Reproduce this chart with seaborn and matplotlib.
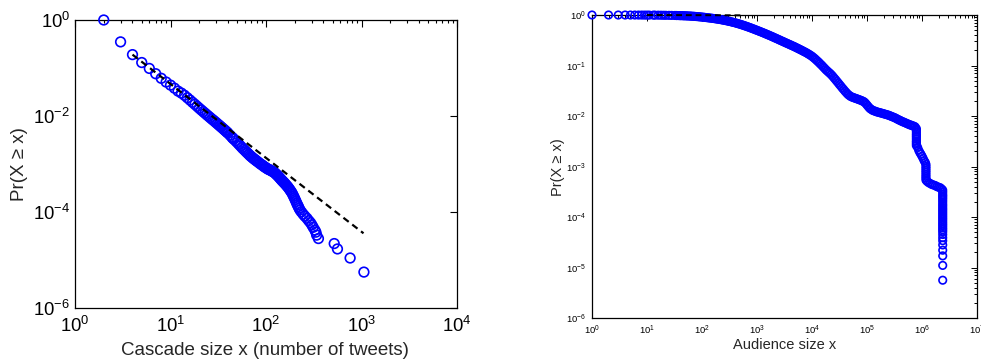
import numpy as np
import pandas as pd
import matplotlib
matplotlib.use("Agg")
import matplotlib.pyplot as plt
import seaborn as sns
from matplotlib.ticker import (LogLocator, FixedLocator, NullLocator,
                               LogFormatterSciNotation, NullFormatter)

# ---------------- data: cascade size CCDF (left panel) ----------------
cascade_size = [2, 3, 4, 5, 6, 7, 8, 9, 10, 11, 12, 13, 14, 15, 16, 17, 18, 19,
                20, 21, 22, 23, 24, 25, 26, 27, 28, 29, 30, 31, 32, 33, 34, 35, 36, 37, 38, 39, 40,
                42, 44, 45, 46, 48, 50, 52, 54, 56, 58, 60, 62, 64, 66, 68, 70, 72, 74, 76, 78, 80,
                83, 86, 89, 92, 95, 98, 101, 104, 107, 110, 113, 116, 119, 122, 125, 128, 131, 134,
                137, 140, 143, 146, 149, 152, 155, 158, 162, 166, 170, 174, 178, 182, 186, 190,
                194, 198, 202, 206, 210, 214, 218, 222, 227,
                235, 245, 255, 268, 280, 292, 302, 312, 325, 333, 339, 354, 518, 560, 760, 1060]
cascade_ccdf = [1.0, 0.35, 0.19, 0.13, 0.098, 0.076, 0.061, 0.051, 0.044, 0.038, 0.033, 0.030,
                0.027, 0.024, 0.0215, 0.0193, 0.0175, 0.0159,
                0.0145, 0.01334, 0.01232, 0.01142, 0.01062, 0.0099, 0.00927, 0.0087, 0.0082, 0.00773,
                0.0073, 0.0069, 0.00653, 0.0062, 0.00588, 0.0056, 0.00532, 0.00507, 0.00483, 0.00461, 0.0044,
                0.00398, 0.00361, 0.00345, 0.0033, 0.00304, 0.0028, 0.00258, 0.00238, 0.0022, 0.00205,
                0.00192, 0.0018, 0.00169, 0.00159, 0.0015, 0.00143, 0.00136, 0.0013, 0.00125, 0.0012, 0.00115,
                0.00109, 0.00103, 0.00098, 0.00094, 0.00089, 0.000856, 0.000822, 0.00079, 0.00077, 0.00075,
                0.000728, 0.000708, 0.000688, 0.00067, 0.00064, 0.000611, 0.000585, 0.00056,
                0.000532, 0.000507, 0.000483, 0.00046, 0.000441, 0.000423, 0.000406, 0.00039, 0.000368,
                0.000348, 0.000329, 0.000309, 0.000289, 0.000271, 0.000254, 0.000234,
                0.000215, 0.000198, 0.000181, 0.000166, 0.000151, 0.00014, 0.00013, 0.00012, 0.00011,
                0.0001, 0.00009, 0.000082, 0.000074, 0.000066, 0.00006, 0.000054, 0.000048, 0.000042,
                0.000038, 0.000033, 0.000028, 0.000022, 0.000017, 0.000011, 0.0000056]
cascade_fit_x = [4, 1050]
cascade_fit_y = [0.19, 3.6e-5]

# ---------------- data: audience size CCDF (right panel) ----------------
aud_head_x = [1, 2, 3, 4, 5, 6, 7, 8, 9, 10, 11, 13, 14, 16, 18, 20, 22, 25, 28]
aud_head_y = [1.0, 1.0, 0.999, 0.999, 0.998, 0.998, 0.997, 0.997, 0.996, 0.995, 0.995,
              0.994, 0.993, 0.992, 0.99, 0.988, 0.986, 0.984, 0.982]

aud_body_x = [32, 34, 35, 38, 40, 42, 45, 47, 50, 53, 56, 60, 63, 67, 71, 75, 79, 84, 89, 94,
              100, 106, 112, 119, 126, 133, 141, 150, 158, 168, 178, 188, 200, 211, 224, 237, 251,
              266, 282, 299, 316, 335, 355, 376, 398, 422, 447, 473, 501, 531, 562, 596, 631, 668,
              708, 750, 794, 841, 891, 944,
              1000, 1059, 1122, 1189, 1259, 1334, 1413, 1496, 1585, 1679, 1778, 1884, 1995, 2113,
              2239, 2371, 2512, 2661, 2818, 2985, 3162, 3350, 3548, 3758, 3981, 4217, 4467, 4732,
              5012, 5309, 5623, 5957, 6310, 6683, 7079, 7499, 7943, 8414, 8913, 9441,
              10000, 10590, 11220, 11890, 12590, 13340, 14130, 14960, 15850, 16790, 17780, 18840,
              19950, 21130, 22390, 23710, 25120, 26610, 28180, 29850, 31620, 33500, 35480, 37580,
              39810, 42170, 44670, 47320, 50120, 53090, 56230, 59570, 63100, 66830, 70790, 74990,
              79430, 84140, 89130, 94410,
              100000, 105900, 112200, 118900, 125900, 133400, 141300, 149600, 158500, 167900,
              177800, 188400, 199500, 211300, 223900, 237100, 251200, 266100, 281800, 298500,
              316200, 335000, 354800, 375800, 398100, 421700, 446700, 473200, 501200, 530900,
              562300, 595700, 631000, 668300, 707900, 749900]
aud_body_y = [0.979, 0.9775, 0.976, 0.974, 0.972, 0.970, 0.968, 0.9655, 0.963, 0.960, 0.957,
              0.9535, 0.95, 0.946, 0.942, 0.937, 0.932, 0.927, 0.922, 0.916,
              0.91, 0.9035, 0.897, 0.8905, 0.884, 0.877, 0.87, 0.863, 0.856, 0.848, 0.84, 0.832,
              0.824, 0.815, 0.806, 0.7965, 0.787, 0.777, 0.767, 0.7565, 0.746, 0.735, 0.724, 0.7125,
              0.701, 0.689, 0.677, 0.6645, 0.652, 0.639, 0.626, 0.613, 0.60, 0.587, 0.574, 0.561,
              0.548, 0.535, 0.522, 0.5095,
              0.497, 0.485, 0.473, 0.4615, 0.45, 0.4385, 0.427, 0.416, 0.405, 0.3945, 0.384, 0.3735,
              0.363, 0.353, 0.343, 0.3335, 0.324, 0.315, 0.306, 0.2975, 0.289, 0.281, 0.273, 0.2655,
              0.258, 0.251, 0.244, 0.237, 0.23, 0.223, 0.216, 0.2095, 0.203, 0.1965, 0.19, 0.184,
              0.178, 0.1715, 0.165, 0.1585,
              0.152, 0.1445, 0.137, 0.1295, 0.122, 0.115, 0.108, 0.1015, 0.095, 0.089, 0.083, 0.0785,
              0.074, 0.070, 0.066, 0.0615, 0.057, 0.053, 0.049, 0.0455, 0.042, 0.039, 0.036, 0.0335,
              0.031, 0.029, 0.027, 0.0257, 0.0245, 0.0238, 0.0232, 0.0227, 0.0222, 0.0217, 0.0212,
              0.0207, 0.0202, 0.0196, 0.019, 0.0178,
              0.0165, 0.0153, 0.0142, 0.0136, 0.0130, 0.0127, 0.0124, 0.0121, 0.0119, 0.0117,
              0.0115, 0.0113, 0.0111, 0.0109, 0.0107, 0.0105, 0.0103, 0.0100, 0.0098, 0.0095,
              0.0093, 0.0090, 0.0087, 0.0084, 0.0082, 0.0079, 0.0077, 0.0075, 0.0073, 0.0071,
              0.0069, 0.0067, 0.0066, 0.0064, 0.0063, 0.0061]

aud_tail_x = [790000] * 11 + [832000, 871000, 912000, 955000, 1000000, 1047000, 1096000, 1148000] \
    + [1180000] * 9 + [1230000, 1318000, 1413000, 1514000, 1622000, 1738000, 1862000, 1995000,
                        2138000, 2265000] + [2380000] * 30
aud_tail_y = [0.0056, 0.0052, 0.0048, 0.0044, 0.0041, 0.0038, 0.0035, 0.0032, 0.0030, 0.0028, 0.0026,
              0.0024, 0.0021, 0.0019, 0.00175, 0.0016, 0.00145, 0.0013, 0.0012,
              0.0011, 0.001, 0.00092, 0.00084, 0.00077, 0.0007, 0.00064, 0.00059, 0.00054,
              0.00051, 0.00048, 0.00046, 0.00044, 0.00043, 0.00042, 0.0004, 0.00039, 0.00038, 0.00036,
              0.00034, 0.00031, 0.00028, 0.00026, 0.00024, 0.00022, 0.0002, 0.00018, 0.000165, 0.00015,
              0.000138, 0.000126, 0.000115, 0.000105, 0.000096, 0.000088, 0.00008, 0.000073, 0.000067,
              0.000061, 0.000056, 0.000051, 0.000045, 0.000039, 0.000034, 0.000028, 0.000022,
              0.000017, 0.000011, 0.0000056]

audience_size = aud_head_x + aud_body_x + aud_tail_x
audience_ccdf = aud_head_y + aud_body_y + aud_tail_y
audience_fit_x = [10, 500]
audience_fit_y = [1.0, 0.985]

assert len(cascade_size) == len(cascade_ccdf)
assert len(aud_head_x) == len(aud_head_y)
assert len(aud_body_x) == len(aud_body_y)
assert len(aud_tail_x) == len(aud_tail_y)

# ---------------- style ----------------
sns.set_style("white")
plt.rcParams['font.family'] = ['Liberation Sans', 'DejaVu Sans']
plt.rcParams['axes.unicode_minus'] = True

fig = plt.figure(figsize=(9.81, 3.62), dpi=100)
W, H = 981, 362
ax1 = fig.add_axes([75 / W, (H - 308) / H, 382 / W, 288 / H])
ax2 = fig.add_axes([592 / W, (H - 318) / H, 385 / W, 303 / H])

for ax in (ax1, ax2):
    ax.set_xscale('log')
    ax.set_yscale('log')

df1 = pd.DataFrame({'size': cascade_size, 'ccdf': cascade_ccdf})
df2 = pd.DataFrame({'size': audience_size, 'ccdf': audience_ccdf})

sns.scatterplot(data=df1, x='size', y='ccdf', ax=ax1, marker='o', s=48,
                facecolor='none', edgecolor='#0000ff', linewidth=1.2, zorder=3)
sns.scatterplot(data=df2, x='size', y='ccdf', ax=ax2, marker='o', s=29,
                facecolor='none', edgecolor='#0000ff', linewidth=1.2, zorder=3)
for ax in (ax1, ax2):
    for c in ax.collections:
        c.set_facecolor('none')
        c.set_edgecolor('#0000ff')
        c.set_clip_on(False)

fit1 = pd.DataFrame({'x': cascade_fit_x, 'y': cascade_fit_y})
fit2 = pd.DataFrame({'x': audience_fit_x, 'y': audience_fit_y})
sns.lineplot(data=fit1, x='x', y='y', ax=ax1, color='black', linewidth=1.6,
             sort=False, estimator=None, zorder=4)
sns.lineplot(data=fit2, x='x', y='y', ax=ax2, color='black', linewidth=1.4,
             sort=False, estimator=None, zorder=4)
for ax in (ax1, ax2):
    for ln in ax.lines:
        ln.set_dashes((3, 2))
        ln.set_clip_on(False)

# ---------------- axes: left ----------------
ax1.set_xlim(1, 1e4)
ax1.set_ylim(1e-6, 1)
ax1.xaxis.set_major_locator(FixedLocator([1, 1e1, 1e2, 1e3, 1e4]))
ax1.xaxis.set_major_formatter(LogFormatterSciNotation())
ax1.xaxis.set_minor_locator(LogLocator(base=10, subs=np.arange(2, 10), numticks=10))
ax1.xaxis.set_minor_formatter(NullFormatter())
ax1.yaxis.set_major_locator(FixedLocator([1e-6, 1e-4, 1e-2, 1]))
ax1.yaxis.set_major_formatter(LogFormatterSciNotation())
ax1.yaxis.set_minor_locator(NullLocator())
ax1.tick_params(which='both', direction='in', top=True, right=True, width=0.8, colors='black')
ax1.tick_params(which='major', length=5)
ax1.tick_params(which='minor', length=2.5)
ax1.tick_params(axis='x', which='major', labelsize=13.3, pad=6)
ax1.tick_params(axis='y', which='major', labelsize=13.3, pad=3.5)
ax1.set_xlabel('Cascade size x (number of tweets)', fontsize=13.5, va='center')
ax1.set_ylabel('Pr(X \u2265 x)', fontsize=13.5, va='center')
ax1.xaxis.set_label_coords(0.497, -0.146)
ax1.yaxis.set_label_coords(-0.144, 0.5)

# ---------------- axes: right ----------------
ax2.set_xlim(1, 1e7)
ax2.set_ylim(1e-6, 1)
ax2.xaxis.set_major_locator(FixedLocator([1, 1e1, 1e2, 1e3, 1e4, 1e5, 1e6, 1e7]))
ax2.yaxis.set_major_locator(FixedLocator([1e-6, 1e-5, 1e-4, 1e-3, 1e-2, 1e-1, 1]))
for axis in (ax2.xaxis, ax2.yaxis):
    axis.set_major_formatter(LogFormatterSciNotation())
    axis.set_minor_locator(LogLocator(base=10, subs=np.arange(2, 10), numticks=12))
    axis.set_minor_formatter(NullFormatter())
ax2.tick_params(which='both', direction='in', top=True, right=True, width=0.7, colors='black')
ax2.tick_params(which='major', length=4)
ax2.tick_params(which='minor', length=2)
ax2.tick_params(axis='x', which='major', labelsize=6.8, pad=4)
ax2.tick_params(axis='y', which='major', labelsize=6.8, pad=4.5)
ax2.set_xlabel('Audience size x', fontsize=10.5, va='center')
ax2.set_ylabel('Pr(X \u2265 x)', fontsize=10.5, va='center')
ax2.xaxis.set_label_coords(0.5, -0.088)
ax2.yaxis.set_label_coords(-0.088, 0.497)

for ax in (ax1, ax2):
    for sp in ax.spines.values():
        sp.set_visible(True)
        sp.set_color('black')
        sp.set_linewidth(0.9)
    ax.set_facecolor('white')
    ax.grid(False)

fig.savefig('out.png', dpi=100, facecolor='white')
